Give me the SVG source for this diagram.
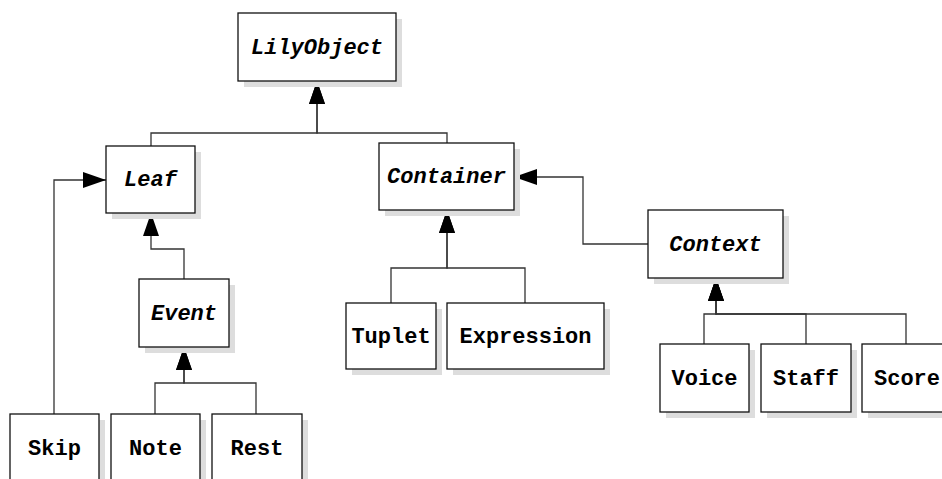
<svg xmlns="http://www.w3.org/2000/svg" width="942" height="479" viewBox="0 0 942 479">
  <style>
    .shadow { fill: #dddddd; stroke: none; }
    .box { fill: #ffffff; stroke: #111111; stroke-width: 1.3; }
    .lbl { font-family: "Liberation Mono", "Courier New", monospace; font-size: 22px; font-weight: bold; fill: #000; text-anchor: middle; }
    .abs { font-style: italic; }
    .link { fill: none; stroke: #333333; stroke-width: 1.3; marker-end: url(#tri); }
  </style>
  <defs>
    <marker id="tri" viewBox="0 0 23 16" refX="23" refY="8" markerWidth="23" markerHeight="16" markerUnits="userSpaceOnUse" orient="auto">
      <path d="M0,0 L23,8 L0,16 z" fill="#000"/>
    </marker>
  </defs>
  <rect width="942" height="479" fill="#ffffff"/>

  <g id="connectors">
    <path class="link" d="M151,146 V133 H317 V81"/>
    <path class="link" d="M447,143 V133 H317 V81"/>
    <path class="link" d="M54,414 V180 H106"/>
    <path class="link" d="M184,279 V249 H151 V213"/>
    <path class="link" d="M155,414 V383 H184 V347"/>
    <path class="link" d="M256,414 V383 H184 V347"/>
    <path class="link" d="M391,303 V268 H447 V210"/>
    <path class="link" d="M525,303 V268 H447 V210"/>
    <path class="link" d="M648,244 H583 V177 H514"/>
    <path class="link" d="M704,344 V314 H716 V278"/>
    <path class="link" d="M806,344 V314 H716 V278"/>
    <path class="link" d="M906,344 V314 H716 V278"/>
  </g>

  <g id="lilyobject">
    <rect class="shadow" x="244" y="19" width="158" height="68"/>
    <rect class="box" x="238" y="13" width="158" height="68"/>
    <text class="lbl abs" x="317" y="54">LilyObject</text>
  </g>
  <g id="leaf">
    <rect class="shadow" x="112" y="152" width="89" height="67"/>
    <rect class="box" x="106" y="146" width="89" height="67"/>
    <text class="lbl abs" x="150.5" y="186">Leaf</text>
  </g>
  <g id="container">
    <rect class="shadow" x="385" y="149" width="135" height="67"/>
    <rect class="box" x="379" y="143" width="135" height="67"/>
    <text class="lbl abs" x="446.5" y="183">Container</text>
  </g>
  <g id="context">
    <rect class="shadow" x="654" y="216" width="135" height="68"/>
    <rect class="box" x="648" y="210" width="135" height="68"/>
    <text class="lbl abs" x="715.5" y="251">Context</text>
  </g>
  <g id="event">
    <rect class="shadow" x="145" y="285" width="90" height="68"/>
    <rect class="box" x="139" y="279" width="90" height="68"/>
    <text class="lbl abs" x="184" y="320">Event</text>
  </g>
  <g id="tuplet">
    <rect class="shadow" x="352" y="309" width="90" height="66"/>
    <rect class="box" x="346" y="303" width="90" height="66"/>
    <text class="lbl" x="391" y="343">Tuplet</text>
  </g>
  <g id="expression">
    <rect class="shadow" x="453" y="309" width="157" height="66"/>
    <rect class="box" x="447" y="303" width="157" height="66"/>
    <text class="lbl" x="525.5" y="343">Expression</text>
  </g>
  <g id="voice">
    <rect class="shadow" x="666" y="350" width="89" height="68"/>
    <rect class="box" x="660" y="344" width="89" height="68"/>
    <text class="lbl" x="704.5" y="385">Voice</text>
  </g>
  <g id="staff">
    <rect class="shadow" x="767" y="350" width="90" height="68"/>
    <rect class="box" x="761" y="344" width="90" height="68"/>
    <text class="lbl" x="806" y="385">Staff</text>
  </g>
  <g id="score">
    <rect class="shadow" x="868" y="350" width="90" height="68"/>
    <rect class="box" x="862" y="344" width="90" height="68"/>
    <text class="lbl" x="907" y="385">Score</text>
  </g>
  <g id="skip">
    <rect class="shadow" x="16" y="420" width="89" height="68"/>
    <rect class="box" x="10" y="414" width="89" height="68"/>
    <text class="lbl" x="54.5" y="455">Skip</text>
  </g>
  <g id="note">
    <rect class="shadow" x="117" y="420" width="89" height="68"/>
    <rect class="box" x="111" y="414" width="89" height="68"/>
    <text class="lbl" x="155.5" y="455">Note</text>
  </g>
  <g id="rest">
    <rect class="shadow" x="218" y="420" width="90" height="68"/>
    <rect class="box" x="212" y="414" width="90" height="68"/>
    <text class="lbl" x="257" y="455">Rest</text>
  </g>
</svg>
